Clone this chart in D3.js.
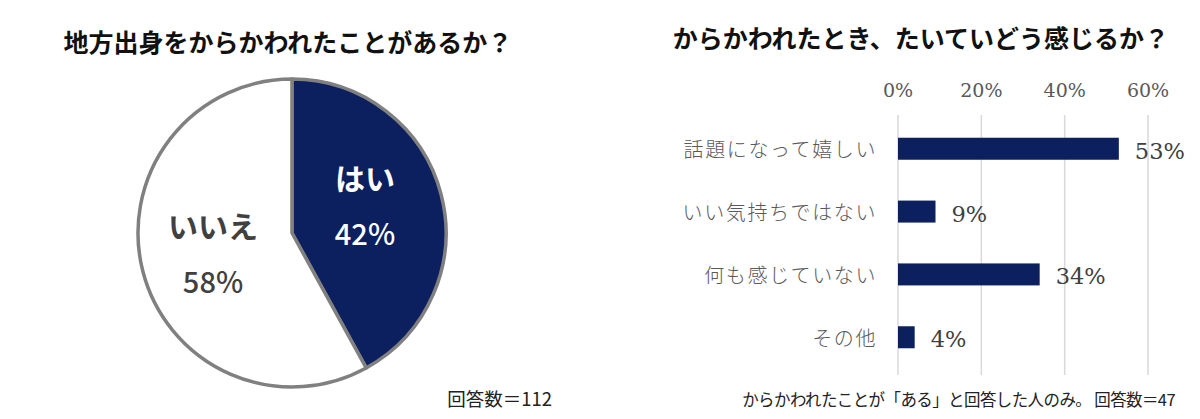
<!DOCTYPE html>
<html><head><meta charset="utf-8">
<script src="https://cdn.jsdelivr.net/npm/d3@7"></script>
<style>body{margin:0;background:#fff}svg{display:block}</style>
</head><body>
<svg id="c" width="1200" height="419"></svg>
<script>
const pieLabels = ["はい", "いいえ"];
const pieValues = [42, 58];
const barCategories = ["話題になって嬉しい", "いい気持ちではない", "何も感じていない", "その他"];
const barValues = [53, 9, 34, 4];
const xTicks = [0, 20, 40, 60];

const svg = d3.select("#c");
const navy = "#0c1f5e";
const sans = "'Noto Sans CJK JP','Noto Sans',sans-serif";
const serif = "'DejaVu Serif','Liberation Serif','Noto Sans CJK JP',serif";

// Titles
svg.append("text").attr("x", 288).attr("y", 52).attr("text-anchor", "middle")
  .style("font-family", sans).style("font-weight", 700).style("font-size", "25px").attr("fill", "#111")
  .text("地方出身をからかわれたことがあるか？");
svg.append("text").attr("x", 921).attr("y", 48).attr("text-anchor", "middle")
  .style("font-family", sans).style("font-weight", 700).style("font-size", "25px").attr("fill", "#111")
  .text("からかわれたとき、たいていどう感じるか？");

// Pie
const cx = 292, cy = 233, r = 154;
const pie = d3.pie().sort(null).value(d => d)(pieValues);
const arc = d3.arc().innerRadius(0).outerRadius(r);
const g = svg.append("g").attr("transform", `translate(${cx},${cy})`);
g.selectAll("path").data(pie).join("path")
  .attr("d", arc)
  .attr("fill", (d, i) => i === 0 ? navy : "#fff")
  .attr("stroke", "#808080").attr("stroke-width", 3.5).attr("stroke-linejoin", "round");
const labelPos = [[73, -56], [-79, -8]];
pie.forEach((d, i) => {
  const col = i === 0 ? "#fff" : "#404040";
  g.append("text").attr("x", labelPos[i][0]).attr("y", labelPos[i][1]).attr("text-anchor", "middle")
    .attr("dominant-baseline", "central")
    .style("font-family", sans).style("font-weight", 700).style("font-size", "30px").attr("fill", col)
    .text(pieLabels[i]);
  g.append("text").attr("x", labelPos[i][0]).attr("y", labelPos[i][1] + 55).attr("text-anchor", "middle")
    .attr("dominant-baseline", "central")
    .style("font-family", sans).style("font-weight", 500).style("font-size", "29px").attr("fill", col)
    .text(pieValues[i] + "%");
});
svg.append("text").attr("x", 552).attr("y", 406).attr("text-anchor", "end")
  .style("font-family", sans).style("font-size", "18.5px").attr("fill", "#222")
  .text("回答数＝112");

// Bar chart
const x = d3.scaleLinear().domain([0, 60]).range([898, 1148]);
const y = d3.scaleBand().domain(barCategories).range([117, 369]).paddingInner(0.65).paddingOuter(0.33);
const bg = svg.append("g");
bg.selectAll("line.grid").data(xTicks).join("line").attr("class", "grid")
  .attr("x1", d => x(d)).attr("x2", d => x(d)).attr("y1", 115).attr("y2", 375)
  .attr("stroke", "#d9d9d9").attr("stroke-width", 1.5);
bg.selectAll("text.tick").data(xTicks).join("text").attr("class", "tick")
  .attr("x", d => x(d)).attr("y", 90).attr("text-anchor", "middle").attr("dominant-baseline", "central")
  .style("font-family", serif).style("font-size", "19px").attr("fill", "#595959")
  .text(d => d + "%");
bg.selectAll("rect").data(barValues).join("rect")
  .attr("x", x(0)).attr("y", (d, i) => y(barCategories[i]))
  .attr("width", d => x(d) - x(0)).attr("height", y.bandwidth())
  .attr("fill", navy);
bg.selectAll("text.cat").data(barCategories).join("text").attr("class", "cat")
  .attr("x", 877).attr("y", d => y(d) + y.bandwidth() / 2).attr("text-anchor", "end").attr("dominant-baseline", "central")
  .style("font-family", sans).style("font-weight", 300).style("font-size", "20px").attr("fill", "#595959")
  .style("letter-spacing", "1.6px")
  .text(d => d);
bg.selectAll("text.val").data(barValues).join("text").attr("class", "val")
  .attr("x", d => x(d) + 16).attr("y", (d, i) => y(barCategories[i]) + y.bandwidth() / 2 + 2)
  .attr("dominant-baseline", "central")
  .style("font-family", serif).style("font-size", "22.5px").attr("fill", "#404040")
  .text(d => d + "%");
svg.append("text").attr("x", 1175).attr("y", 406).attr("text-anchor", "end")
  .style("font-family", sans).style("font-size", "16.5px").attr("fill", "#222")
  .style("letter-spacing", "-0.6px")
  .text("からかわれたことが「ある」と回答した人のみ。 回答数＝47");
</script>
</body></html>
